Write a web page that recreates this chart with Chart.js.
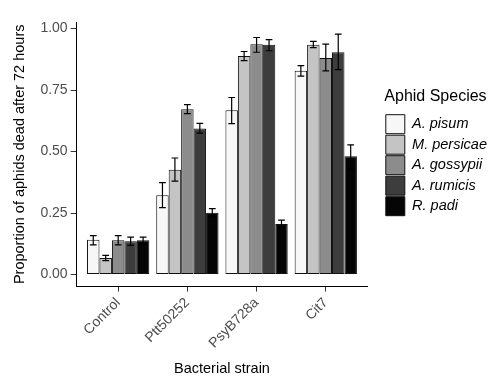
<!DOCTYPE html>
<html>
<head>
<meta charset="utf-8">
<script src="https://cdn.jsdelivr.net/npm/chart.js@4"></script>
<style>
  html, body { margin: 0; padding: 0; background: #fff; }
  #wrap { width: 493px; height: 384px; }
</style>
</head>
<body>
<div id="wrap"><canvas id="aphids"></canvas></div>
<script>
// proportion of aphids dead after 72 h, per bacterial strain and aphid species
const strains = ['Control', 'Ptt50252', 'PsyB728a', 'Cit7'];
const species = ['A. pisum', 'M. persicae', 'A. gossypii', 'A. rumicis', 'R. padi'];
const yTicks = [0, 0.25, 0.5, 0.75, 1];

const pisum      = [0.141, 0.322, 0.668, 0.829];
const pisumLo    = [0.121, 0.272, 0.614, 0.807];
const pisumHi    = [0.158, 0.374, 0.720, 0.850];

const persicae   = [0.067, 0.426, 0.889, 0.934];
const persicaeLo = [0.057, 0.380, 0.870, 0.923];
const persicaeHi = [0.078, 0.474, 0.907, 0.948];

const gossypii   = [0.139, 0.672, 0.937, 0.881];
const gossypiiLo = [0.121, 0.654, 0.904, 0.828];
const gossypiiHi = [0.158, 0.691, 0.964, 0.937];

const rumicis    = [0.135, 0.594, 0.934, 0.904];
const rumicisLo  = [0.119, 0.575, 0.910, 0.833];
const rumicisHi  = [0.152, 0.615, 0.955, 0.978];

const padi       = [0.139, 0.251, 0.206, 0.481];
const padiLo     = [0.124, 0.235, 0.190, 0.429];
const padiHi     = [0.152, 0.268, 0.221, 0.527];

const means = [pisum, persicae, gossypii, rumicis, padi];
const lows  = [pisumLo, persicaeLo, gossypiiLo, rumicisLo, padiLo];
const highs = [pisumHi, persicaeHi, gossypiiHi, rumicisHi, padiHi];
const fills = ['#f7f7f7', '#c4c4c4', '#8c8c8c', '#3d3d3d', '#050505'];

Chart.defaults.font.family = '"Liberation Sans", Arial, sans-serif';

// error bars, drawn from the lo/hi arrays through the y scale
const errorBars = {
  id: 'errorBars',
  afterDatasetsDraw(chart) {
    const ctx = chart.ctx;
    const y = chart.scales.y;
    ctx.save();
    ctx.strokeStyle = '#000';
    ctx.lineWidth = 1.2;
    chart.data.datasets.forEach((ds, k) => {
      chart.getDatasetMeta(k).data.forEach((bar, i) => {
        const x = bar.x;
        const half = bar.width * 0.27;
        const top = y.getPixelForValue(highs[k][i]);
        const bot = y.getPixelForValue(lows[k][i]);
        ctx.beginPath();
        ctx.moveTo(x, top); ctx.lineTo(x, bot);
        ctx.moveTo(x - half, top); ctx.lineTo(x + half, top);
        ctx.moveTo(x - half, bot); ctx.lineTo(x + half, bot);
        ctx.stroke();
      });
    });
    ctx.restore();
  }
};

// leave a gap between the panel and the legend
const legendGap = {
  id: 'legendGap',
  afterLayout(chart) {
    chart.legend.left += 17;
    chart.legend.right += 17;
  }
};

new Chart(document.getElementById('aphids'), {
  type: 'bar',
  data: {
    datasets: species.map((s, k) => ({
      label: s,
      data: means[k].map((v, i) => ({ x: i + 1, y: v })),
      backgroundColor: fills[k],
      borderColor: '#111',
      borderWidth: 1,
      borderSkipped: false,
      categoryPercentage: 0.9,
      barPercentage: 1
    }))
  },
  options: {
    responsive: true,
    maintainAspectRatio: false,
    animation: false,
    layout: { padding: { top: 22, left: 7, right: 13, bottom: 2 } },
    scales: {
      x: {
        type: 'linear',
        min: 0.4,
        max: 4.6,
        offset: false,
        afterBuildTicks: axis => { axis.ticks = strains.map((s, i) => ({ value: i + 1 })); },
        ticks: {
          callback: v => strains[v - 1],
          minRotation: 45,
          maxRotation: 45,
          color: '#4d4d4d',
          font: { size: 14 },
          padding: 3
        },
        grid: { offset: false, drawOnChartArea: false, tickLength: 5, color: '#333' },
        border: { color: '#000', width: 1 },
        title: { display: true, text: 'Bacterial strain', color: '#000', font: { size: 14.5 }, padding: { top: 6 } }
      },
      y: {
        min: -0.049,
        max: 1.027,
        afterBuildTicks: axis => { axis.ticks = yTicks.map(v => ({ value: v })); },
        ticks: {
          callback: v => v.toFixed(2),
          color: '#4d4d4d',
          font: { size: 14 },
          padding: 3
        },
        grid: { drawOnChartArea: false, tickLength: 6, color: '#333' },
        border: { color: '#000', width: 1 },
        title: { display: true, text: 'Proportion of aphids dead after 72 hours', color: '#000', font: { size: 14.5 }, padding: { bottom: 9 } }
      }
    },
    plugins: {
      legend: {
        position: 'right',
        align: 'start',
        title: { display: true, text: 'Aphid Species', position: 'start', color: '#000', font: { size: 16 }, padding: { top: 67, bottom: 5 } },
        labels: {
          boxWidth: 19,
          boxHeight: 19,
          padding: 1.5,
          color: '#000',
          font: { size: 14.5, style: 'italic' }
        }
      },
      tooltip: { enabled: false }
    }
  },
  plugins: [errorBars, legendGap]
});
</script>
</body>
</html>
